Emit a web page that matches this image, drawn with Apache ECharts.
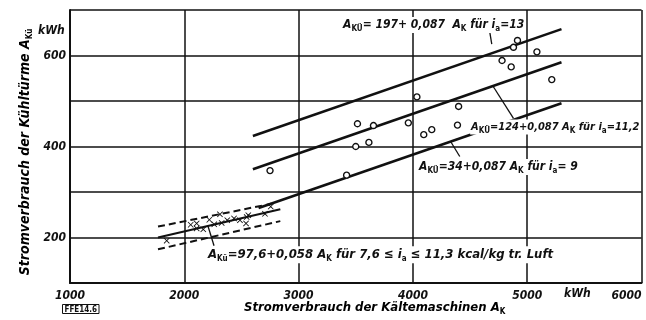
<!DOCTYPE html>
<html>
<head>
<meta charset="utf-8">
<script src="https://cdn.jsdelivr.net/npm/echarts@6/dist/echarts.min.js"></script>
<style>
  html, body { margin: 0; padding: 0; background: #fff; }
  #chart { width: 646px; height: 320px; }
</style>
</head>
<body>
<div id="chart"></div>
<script>
var FONT = "'DejaVu Sans Condensed', 'Liberation Sans Narrow', 'DejaVu Sans', sans-serif";
var INK = '#111';

// Messpunkte (o) und (x)
var circleAK  = [2750, 3420, 3500, 3515, 3615, 3655, 3960, 4035, 4095, 4165, 4390, 4400, 4780, 4860, 4880, 4915, 5085, 5215];
var circleAKu = [347, 337, 400, 450, 409, 446, 452, 509, 426, 437, 447, 488, 589, 575, 618, 633, 608, 547];
var crossAK   = [1846, 2056, 2108, 2108, 2166, 2219, 2262, 2312, 2327, 2376, 2435, 2487, 2540, 2546, 2560, 2706, 2756];
var crossAKu  = [193, 228, 231, 220, 218, 239, 229, 251, 232, 238, 242, 238, 231, 245, 249, 252, 268];

// Ausgleichsgeraden (Endpunkte)
var line13   = [[2600, 423], [5300, 658]];
var line112  = [[2600, 350], [5300, 585]];
var line9    = [[2650, 265], [5300, 495]];
var bandMid  = [[1770, 200], [2840, 262]];
var bandUp   = [[1770, 224], [2760, 274]];
var bandLow  = [[1770, 174], [2840, 236]];

// Hinweislinien zu den Beschriftungen
var leaders = [
  [[4690, 625], [4670, 655]],
  [[4700, 533], [4880, 462]],
  [[4330, 411], [4410, 378]],
  [[2205, 227], [2260, 182]]
];

var xTicks = [1000, 2000, 3000, 4000, 5000, 6000];
var yTicks = [200, 400, 600];

function richSet(size) {
  return {
    a: { fontFamily: FONT, fontSize: size, fontStyle: 'italic', fontWeight: 'bold', color: INK, lineHeight: size + 4, verticalAlign: 'middle' },
    s: { fontFamily: FONT, fontSize: 8, fontWeight: 'bold', color: INK, lineHeight: 10, verticalAlign: 'bottom' }
  };
}
var richSmall = richSet(11);
var rich = richSet(12);
var richBig = richSet(13);
var richTitle = richSet(14);

var notes = [
  { value: [3380, 667], text: '{a|A}{s|KÜ}{a|= 197+ 0,087  A}{s|K}{a| für i}{s|a}{a|=13}', r: rich, pos: 'right' },
  { value: [5990, 443], text: '{a|A}{s|KÜ}{a|=124+0,087 A}{s|K}{a| für i}{s|a}{a|=11,2}', r: richSmall, pos: 'left' },
  { value: [4045, 355], text: '{a|A}{s|KÜ}{a|=34+0,087 A}{s|K}{a| für i}{s|a}{a|= 9}', r: rich, pos: 'right' },
  { value: [2199, 162], text: '{a|A}{s|Kü}{a|=97,6+0,058 A}{s|K}{a| für 7,6 ≤ i}{s|a}{a| ≤ 11,3 kcal/kg tr. Luft}', r: richBig, pos: 'right' }
];

function zip(a, b) {
  return a.map(function (v, i) { return [v, b[i]]; });
}

function solid(data, w) {
  return { type: 'line', data: data, symbol: 'none', silent: true,
    lineStyle: { color: INK, width: w }, z: 3 };
}
function dashed(data) {
  return { type: 'line', data: data, symbol: 'none', silent: true,
    lineStyle: { color: INK, width: 2, type: [7, 4] }, z: 3 };
}

var series = [
  solid(line13, 2.6), solid(line112, 2.6), solid(line9, 2.6), solid(bandMid, 2),
  dashed(bandUp), dashed(bandLow),
  {
    type: 'scatter', data: zip(circleAK, circleAKu), symbol: 'circle', symbolSize: 6,
    itemStyle: { color: '#fff', borderColor: INK, borderWidth: 1.4, opacity: 1 }, z: 5
  },
  {
    type: 'scatter', data: zip(crossAK, crossAKu), symbolSize: 6,
    symbol: 'path://M0,1L1,0L5,4L9,0L10,1L6,5L10,9L9,10L5,6L1,10L0,9L4,5Z',
    itemStyle: { color: INK, opacity: 1 }, z: 5
  }
];
leaders.forEach(function (l) {
  series.push({ type: 'line', data: l, symbol: 'none', silent: true,
    lineStyle: { color: INK, width: 1.3 }, z: 4 });
});
series.push({
  type: 'scatter', symbolSize: 0, silent: true, z: 6,
  itemStyle: { opacity: 1 },
  data: notes.map(function (n) {
    return { value: n.value, label: { formatter: n.text, rich: n.r, position: n.pos } };
  }),
  label: { show: true, distance: 0, backgroundColor: '#fff', padding: [0, 1] }
});

var chart = echarts.init(document.getElementById('chart'));
chart.setOption({
  animation: false,
  backgroundColor: '#fff',
  grid: { left: 70, right: 4.5, top: 10, bottom: 37, outerBoundsMode: 'none', containLabel: false },
  xAxis: {
    type: 'value', min: 1000, max: 6000, interval: 1000,
    axisLine: { lineStyle: { color: INK, width: 2 } },
    axisTick: { show: false },
    splitLine: { lineStyle: { color: INK, width: 1.5 } },
    axisLabel: {
      margin: 7, color: INK, fontFamily: FONT, fontSize: 12, fontStyle: 'italic', fontWeight: 'bold',
      alignMaxLabel: 'right',
      formatter: function (v) { return xTicks.indexOf(v) >= 0 ? String(v) : ''; }
    }
  },
  yAxis: {
    type: 'value', min: 100, max: 700, interval: 100,
    axisLine: { show: true, lineStyle: { color: INK, width: 2 } },
    axisTick: { show: false },
    splitLine: { lineStyle: { color: INK, width: 1.5 } },
    axisLabel: {
      margin: 4, color: INK, fontFamily: FONT, fontSize: 12, fontStyle: 'italic', fontWeight: 'bold',
      formatter: function (v) { return yTicks.indexOf(v) >= 0 ? String(v) : ''; }
    }
  },
  graphic: [
    { type: 'text', left: 564, top: 288, style: { text: 'kWh', fontFamily: FONT, fontSize: 12, fontStyle: 'italic', fontWeight: 'bold', fill: INK } },
    { type: 'text', left: 38, top: 25, style: { text: 'kWh', fontFamily: FONT, fontSize: 12, fontStyle: 'italic', fontWeight: 'bold', fill: INK } },
    {
      type: 'text', x: 244, y: 299,
      style: { text: '{a|Stromverbrauch der Kältemaschinen A}{s|K}', rich: richBig }
    },
    {
      type: 'text', x: 25, y: 152, rotation: Math.PI / 2,
      style: { text: '{a|Stromverbrauch der Kühltürme A}{s|Kü}', rich: richTitle, align: 'center', verticalAlign: 'middle' }
    },
    {
      type: 'text', left: 62, top: 304,
      style: { text: 'FFE14.6', fontFamily: FONT, fontSize: 8, fontWeight: 'bold', fill: INK,
        borderColor: INK, borderWidth: 1, padding: [1, 2, 0, 2] }
    }
  ],
  series: series
});
</script>
</body>
</html>
